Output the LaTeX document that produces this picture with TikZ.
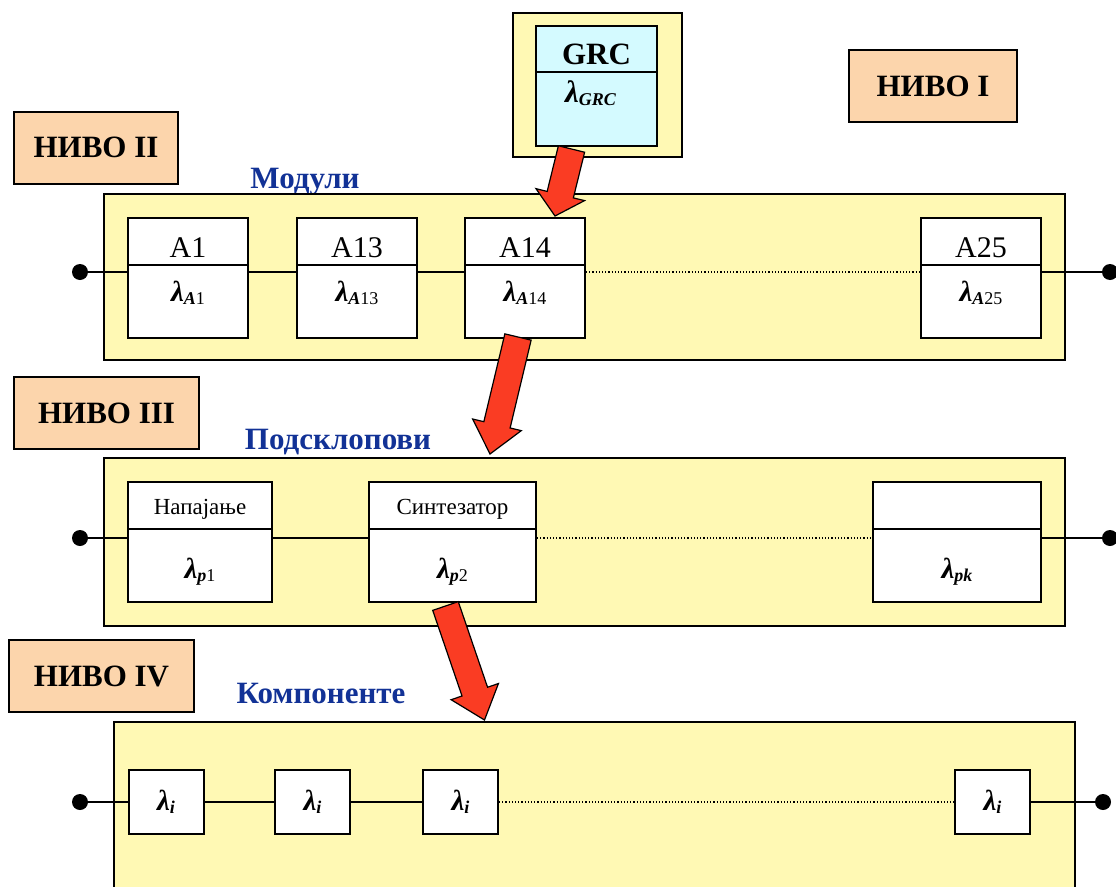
\documentclass[tikz,border=0pt]{standalone}
\usepackage{fontspec}
\setmainfont{Liberation Serif}
\usetikzlibrary{calc}

\definecolor{peach}{RGB}{252,213,172}
\definecolor{pale}{RGB}{255,249,180}
\definecolor{icecyan}{RGB}{212,250,255}
\definecolor{headblue}{RGB}{18,50,150}
\definecolor{arrowred}{RGB}{250,60,35}

\newcommand\fsz[1]{\fontsize{#1}{#1}\selectfont}
% lambda with a subscript
\newcommand\lam[2][29]{{\fsz{#1}\bfseries\itshape λ}\raisebox{-3pt}{\fsz{18}#2}}
% red block arrow: [head length]{from}{to}
\newcommand\bigarrow[3][30]{%
  \coordinate (ab) at ($(#3)!#1pt!(#2)$);
  \draw[hugearrow] ($(#2)!13.5pt!90:(#3)$) -- ($(ab)!13.5pt!90:(#3)$) -- ($(ab)!25pt!90:(#3)$)
    -- (#3) -- ($(ab)!25pt!-90:(#3)$) -- ($(ab)!13.5pt!-90:(#3)$) -- ($(#2)!13.5pt!-90:(#3)$) -- cycle;}

\begin{document}
\begin{tikzpicture}[x=1pt,y=-1pt,
    nivo/.style={draw, line width=2pt, fill=peach, minimum height=72pt, inner sep=0pt, font=\fsz{31}\bfseries},
    panel/.style={draw, line width=2pt, fill=pale, inner sep=0pt},
    block/.style={draw, line width=2pt, fill=white, inner sep=0pt},
    head/.style={text=headblue, font=\fsz{31}\bfseries, anchor=base, inner sep=0pt},
    lbl/.style={inner sep=0pt, anchor=base},
    wire/.style={line width=2pt},
    gap/.style={dotted, line width=1.2pt},
    term/.style={circle, fill=black, inner sep=0pt, minimum size=16pt},
    hugearrow/.style={fill=arrowred, draw=black, line width=1.2pt, line join=miter}]
  \clip (0,0) rectangle (1116,886);

  % level I
  \node[nivo, minimum width=168pt] (n1) at (933,86) {НИВО I};
  \node[panel, minimum width=169pt, minimum height=144pt] (grcbox) at (597.5,85) {};
  \node[block, fill=icecyan, minimum width=121pt, minimum height=120pt] (grc) at (596.5,86) {};
  \draw[wire] ($(grc.north west)+(0,47)$) -- ($(grc.north east)+(0,47)$);
  \node[lbl, font=\fsz{31}\bfseries] (grct) at ($(grc.north)+(0,39)$) {GRC};
  \node[lbl] (grcl) at ($(grc.north)+(-6,77)$) {\lam[31]{\bfseries\itshape GRC}};

  % level II
  \node[nivo, minimum width=164pt] (n2) at (96,147.5) {НИВО II};
  \node[head] (mod) at (305,188) {Модули};
  \node[panel, minimum width=961pt, minimum height=166pt] (p2) at (584.5,277) {};
  \foreach \n/\x/\t in {a1/188/1, a13/357/13, a14/525/14, a25/981/25} {
    \node[block, minimum width=120pt, minimum height=120pt] (\n) at (\x,278) {};
    \draw[wire] ($(\n.north west)+(0,48)$) -- ($(\n.north east)+(0,48)$);
    \node[lbl, font=\fsz{30}] at ($(\n.north)+(0,40)$) {A\t};
    \node[lbl] at ($(\n.north)+(0,84)$) {\lam{\textbf{\textit{A}}\t}};
  }
  \node[term] (l2) at (80,272) {};
  \node[term] (r2) at (1110,272) {};
  \draw[wire] (l2) -- (l2 -| a1.west);
  \draw[wire] (a1.east |- l2) -- (a13.west |- l2);
  \draw[wire] (a13.east |- l2) -- (a14.west |- l2);
  \draw[gap] (a14.east |- l2) -- (a25.west |- l2);
  \draw[wire] (a25.east |- l2) -- (r2);

  % level III
  \node[nivo, minimum width=185pt] (n3) at (106.5,413) {НИВО III};
  \node[head] (sub) at (338,449) {Подсклопови};
  \node[panel, minimum width=961pt, minimum height=168pt] (p3) at (584.5,542) {};
  \foreach \n/\x/\w/\t/\s in {pw/200/144/Напајање/\textbf{\textit{p}}1,
      syn/452.5/167/Синтезатор/\textbf{\textit{p}}2, pk/957/168//\textbf{\textit{pk}}} {
    \node[block, minimum width=\w pt, minimum height=120pt] (\n) at (\x,542) {};
    \draw[wire] ($(\n.north west)+(0,48)$) -- ($(\n.north east)+(0,48)$);
    \node[lbl, font=\fsz{23}] at ($(\n.north)+(0,33)$) {\t};
    \node[lbl] at ($(\n.north)+(0,97)$) {\lam{\s}};
  }
  \node[term] (l3) at (80,538) {};
  \node[term] (r3) at (1110,538) {};
  \draw[wire] (l3) -- (l3 -| pw.west);
  \draw[wire] (pw.east |- l3) -- (syn.west |- l3);
  \draw[gap] (syn.east |- l3) -- (pk.west |- l3);
  \draw[wire] (pk.east |- l3) -- (r3);

  % level IV
  \node[nivo, minimum width=185pt] (n4) at (101.5,676) {НИВО IV};
  \node[head] (comp) at (321,703) {Компоненте};
  \node[panel, minimum width=961pt, minimum height=200pt] (p4) at (594.5,822) {};
  \foreach \n/\x in {c1/166, c2/312.5, c3/460.5, c4/992.5}
    \node[block, minimum width=75pt, minimum height=64pt] (\n) at (\x,802) {\lam{\textbf{\textit{i}}}};
  \node[term] (l4) at (80,802) {};
  \node[term] (r4) at (1103,802) {};
  \draw[wire] (l4) -- (c1);
  \draw[wire] (c1) -- (c2);
  \draw[wire] (c2) -- (c3);
  \draw[gap] (c3) -- (c4);
  \draw[wire] (c4) -- (r4);

  % arrows between levels
  \coordinate (s1) at ($(grc.south)+(-25,2)$);
  \coordinate (e1) at ($(a14.north)+(30,-1)$);
  \coordinate (s2) at ($(a14.south)+(-7,-2)$);
  \coordinate (e2) at ($(p3.north)+(-94.5,-3)$);
  \coordinate (s3) at ($(syn.south)+(-7,3)$);
  \coordinate (e3) at ($(p4.north)+(-110,-1)$);
  \bigarrow[22]{s1}{e1}
  \bigarrow{s2}{e2}
  \bigarrow{s3}{e3}
\end{tikzpicture}
\end{document}
